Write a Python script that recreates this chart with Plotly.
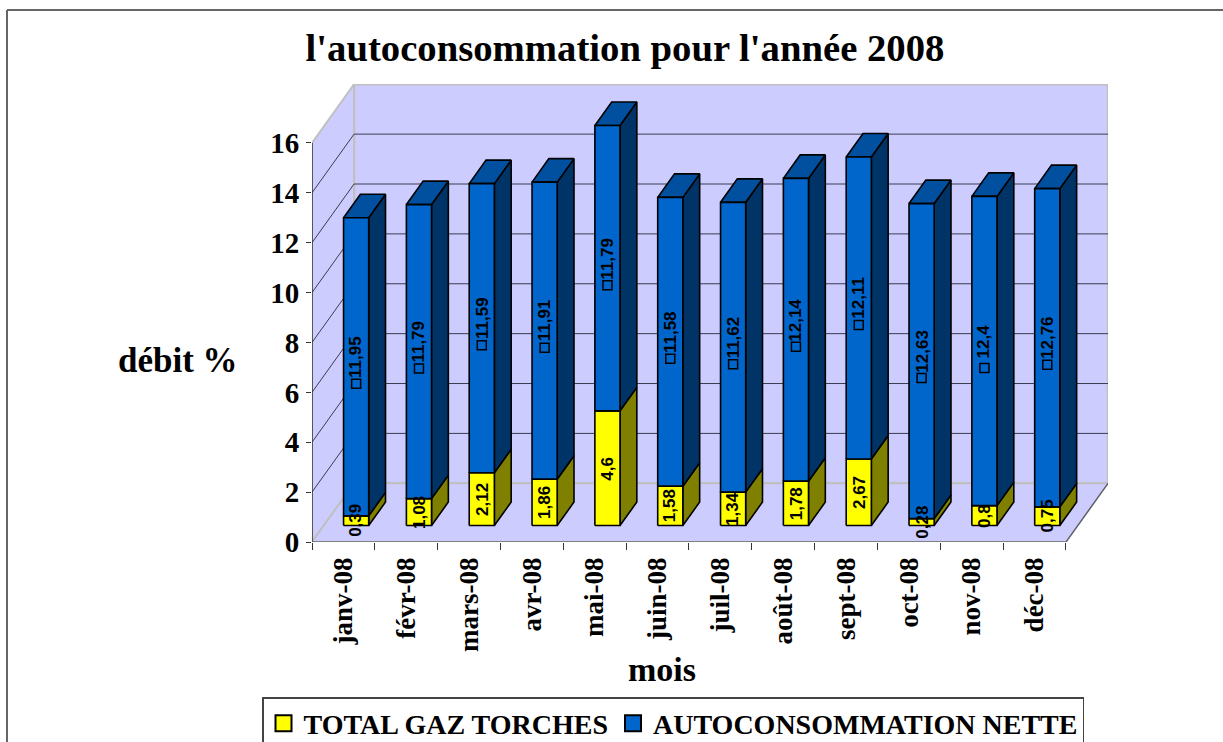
import plotly.graph_objects as go

months = ["janv-08", "févr-08", "mars-08", "avr-08", "mai-08", "juin-08",
          "juil-08", "août-08", "sept-08", "oct-08", "nov-08", "déc-08"]
torches = [0.39, 1.08, 2.12, 1.86, 4.6, 1.58, 1.34, 1.78, 2.67, 0.28, 0.8, 0.75]
nette = [11.95, 11.79, 11.59, 11.91, 11.44, 11.58, 11.62, 12.14, 12.11, 12.63, 12.4, 12.76]
torches_lbl = ["0,39", "1,08", "2,12", "1,86", "4,6", "1,58", "1,34", "1,78", "2,67", "0,28", "0,8", "0,75"]
nette_lbl = ["11,95", "11,79", "11,59", "11,91", "11,79", "11,58", "11,62", "12,14", "12,11", "12,63", "12,4", "12,76"]
y_ticks = [0, 2, 4, 6, 8, 10, 12, 14, 16]

W, H = 1223, 742
L, R, T, B = 312, 1108, 84, 542
X_MAX = (R - L) / 62.83
Y_MAX = (B - T) / 24.94
DX = X_MAX - 12          # oblique shift of the full chart depth
DY = 2.354
BAR_D0, BAR_D1 = 0.28, 0.68   # depth occupied by bars
BAR_C, BAR_HW = 0.515, 0.2    # bar centre in its category cell, half width
SERIF = "Liberation Serif"


def P(x, v, d=0.0):
    return x + DX * d, v + DY * d


def polys(faces):
    xs, ys = [], []
    for face in faces:
        pts = [P(*p) for p in face]
        pts.append(pts[0])
        xs += [p[0] for p in pts] + [None]
        ys += [p[1] for p in pts] + [None]
    return xs, ys


def fill_trace(faces, color, line_color="black", width=1.6):
    xs, ys = polys(faces)
    return go.Scatter(x=xs, y=ys, mode="lines", fill="toself", fillcolor=color,
                      line=dict(color=line_color, width=width), showlegend=False,
                      hoverinfo="skip", cliponaxis=False)


def line_trace(segments, color, width):
    xs, ys = [], []
    for seg in segments:
        for p in seg:
            a, b = P(*p)
            xs.append(a)
            ys.append(b)
        xs.append(None)
        ys.append(None)
    return go.Scatter(x=xs, y=ys, mode="lines", line=dict(color=color, width=width),
                      showlegend=False, hoverinfo="skip", cliponaxis=False)


fig = go.Figure()
WALL = "#CCCCFF"
top = y_ticks[-1]
# walls and floor
fig.add_trace(fill_trace([[(0, 0, 1), (12, 0, 1), (12, top, 1), (0, top, 1)]], WALL, "#C0C0C0", 2.5))
fig.add_trace(fill_trace([[(0, 0, 0), (0, top, 0), (0, top, 1), (0, 0, 1)]], WALL, "#C0C0C0", 2))
fig.add_trace(fill_trace([[(0, 0, 0), (12, 0, 0), (12, 0, 1), (0, 0, 1)]], WALL, "#C0C0C0", 2))
# grid lines
grid = [[(0, v, 0), (0, v, 1), (12, v, 1)] for v in y_ticks[1:-1]]
fig.add_trace(line_trace(grid, "#3C3C50", 1))
# outer axes
fig.add_trace(line_trace([[(12, 0, 0), (12, 0, 1)]], "#55556A", 1.2))
fig.add_trace(line_trace([[(0, 0, 0), (12, 0, 0)]], "#808080", 2))
fig.add_trace(line_trace([[(0, 0, 0), (0, top, 0)]], "#333333", 1.5))

# bars
yf, ys, bf, bs, bt = [], [], [], [], []
for i, (a, b) in enumerate(zip(torches, nette)):
    x0, x1 = i + BAR_C - BAR_HW, i + BAR_C + BAR_HW
    yf.append([(x0, 0, BAR_D0), (x1, 0, BAR_D0), (x1, a, BAR_D0), (x0, a, BAR_D0)])
    ys.append([(x1, 0, BAR_D0), (x1, 0, BAR_D1), (x1, a, BAR_D1), (x1, a, BAR_D0)])
    bf.append([(x0, a, BAR_D0), (x1, a, BAR_D0), (x1, a + b, BAR_D0), (x0, a + b, BAR_D0)])
    bs.append([(x1, a, BAR_D0), (x1, a, BAR_D1), (x1, a + b, BAR_D1), (x1, a + b, BAR_D0)])
    bt.append([(x0, a + b, BAR_D0), (x1, a + b, BAR_D0), (x1, a + b, BAR_D1), (x0, a + b, BAR_D1)])
fig.add_trace(fill_trace(ys, "#808000"))
fig.add_trace(fill_trace(yf, "#FFFF00"))
fig.add_trace(fill_trace(bs, "#003366"))
fig.add_trace(fill_trace(bt, "#00509F"))
fig.add_trace(fill_trace(bf, "#0066CC"))

# data labels
LABEL_FONT = dict(family="Liberation Sans", size=17, color="black", weight=700)
annotations = []
sq_x, sq_y = [], []
for i, (a, b) in enumerate(zip(torches, nette)):
    cx, _ = P(i + BAR_C, 0, BAR_D0)
    _, ya = P(0, a / 2, BAR_D0)
    _, yb = P(0, a + b / 2, BAR_D0)
    annotations.append(dict(x=cx, y=ya, xref="x", yref="y", text=torches_lbl[i], textangle=-90,
                            showarrow=False, font=LABEL_FONT, xanchor="center", yanchor="middle"))
    annotations.append(dict(x=cx, y=yb, xref="x", yref="y", text=nette_lbl[i], textangle=-90,
                            showarrow=False, font=LABEL_FONT, xanchor="center", yanchor="middle", yshift=10))
    sq_x.append(cx)
    sq_y.append(yb - 17 / 24.94)
fig.add_trace(go.Scatter(x=sq_x, y=sq_y, mode="markers", showlegend=False, hoverinfo="skip",
                         marker=dict(symbol="square", size=9, color="#0066CC",
                                     line=dict(color="black", width=1.5))))

# legend entries
for name, color in [("TOTAL GAZ TORCHES", "#FFFF00"), ("AUTOCONSOMMATION NETTE", "#0066CC")]:
    fig.add_trace(go.Scatter(x=[None], y=[None], mode="markers", name=name,
                             marker=dict(symbol="square", size=16, color=color,
                                         line=dict(color="black", width=2))))


def px(v):
    return (v - L) / (R - L)


def py(v):
    return (B - v) / (B - T)


for text, x, y, size in [("débit %", 178, 360, 35), ("mois", 662, 669, 34)]:
    annotations.append(dict(x=px(x), y=py(y), xref="paper", yref="paper", text=text, showarrow=False,
                            font=dict(family=SERIF, size=size, color="black", weight=700),
                            xanchor="center", yanchor="middle"))

frame = dict(color="#666666", width=2)
shapes = [
    dict(type="line", xref="paper", yref="paper", x0=px(7), x1=px(7), y0=py(10), y1=py(H), line=frame),
    dict(type="line", xref="paper", yref="paper", x0=px(7), x1=px(W), y0=py(10), y1=py(10), line=frame),
]

fig.update_layout(
    width=W, height=H,
    margin=dict(l=L, r=W - R, t=T, b=H - B, pad=0, autoexpand=False),
    paper_bgcolor="white", plot_bgcolor="rgba(0,0,0,0)",
    title=dict(text="l'autoconsommation pour l'année 2008", x=625 / W, xanchor="center",
               y=1 - 47 / H, yanchor="middle",
               font=dict(family=SERIF, size=38.7, color="black", weight=700)),
    xaxis=dict(range=[0, X_MAX], showgrid=False, zeroline=False, showline=False,
               tickmode="array", tickvals=[i + 0.5 for i in range(12)], ticktext=months,
               ticks="", tickangle=-90, ticklabelstandoff=9,
               tickfont=dict(family=SERIF, size=27, color="black", weight=700),
               minor=dict(tickmode="array", tickvals=list(range(13)), ticks="outside",
                          ticklen=7, tickwidth=1.3, tickcolor="#333333", showgrid=False)),
    yaxis=dict(range=[0, Y_MAX], showgrid=False, zeroline=False, showline=False,
               tickmode="array", tickvals=y_ticks, ticks="outside", ticklen=5, tickwidth=1.3,
               tickcolor="#333333", ticklabelstandoff=1,
               tickfont=dict(family=SERIF, size=29, color="black", weight=700)),
    legend=dict(orientation="h", x=px(262), xanchor="left", y=py(697), yanchor="top",
                bgcolor="white", bordercolor="#444444", borderwidth=1.5, itemwidth=30,
                traceorder="normal", font=dict(family=SERIF, size=28, color="black", weight=700)),
    annotations=annotations, shapes=shapes,
)
fig.write_html("out.html", config={"displayModeBar": False},
               post_script="document.body.style.margin='0';document.body.style.overflow='hidden';")
